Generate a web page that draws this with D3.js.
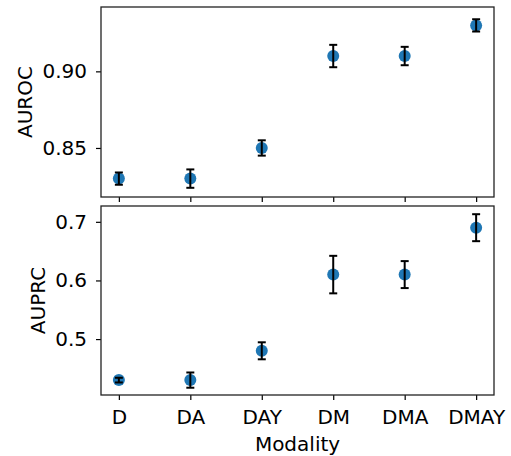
<!DOCTYPE html>
<html><head><meta charset="utf-8">
<script src="https://cdn.jsdelivr.net/npm/d3@7"></script>
<style>body{margin:0;background:#fff}svg{display:block}</style>
</head><body>
<script>
const categories = ["D","DA","DAY","DM","DMA","DMAY"];
const aurocValues = [0.83,0.83,0.85,0.91,0.91,0.93];
const aurocErrors = [0.004,0.006,0.005,0.0073,0.006,0.004];
const auprcValues = [0.43,0.43,0.48,0.61,0.61,0.69];
const auprcErrors = [0.004,0.013,0.0145,0.032,0.023,0.023];
const aurocTicks = [0.85,0.90];
const auprcTicks = [0.5,0.6,0.7];

const W=511,H=456;
const svg=d3.select("body").append("svg").attr("width",W).attr("height",H);
const font="DejaVu Sans";
const FS=20;
const left=101,right=494;
const xl=d3.scaleLinear().domain([-0.25,5.25]).range([left,right]);
const xpos=i=>xl(i);

function panel(top,bottom,domain,vals,errs,ticks,fmt,label,labelX,showXLabels){
  const y=d3.scaleLinear().domain(domain).range([bottom,top]);
  const g=svg.append("g");
  const ya=g.append("g").attr("transform",`translate(${left},0)`)
    .call(d3.axisLeft(y).tickValues(ticks).tickFormat(d3.format(fmt)).tickSize(5).tickPadding(9));
  ya.select(".domain").remove();
  ya.selectAll("text").attr("font-family",font).attr("font-size",FS).attr("fill","#000");
  ya.selectAll("line").attr("stroke","#000").attr("stroke-width",1.2);
  const xa=g.append("g").attr("transform",`translate(0,${bottom})`)
    .call(d3.axisBottom(xl).tickValues(d3.range(categories.length)).tickFormat(i=>showXLabels?categories[i]:"").tickSize(5).tickPadding(10));
  xa.select(".domain").remove();
  xa.selectAll("text").attr("font-family",font).attr("font-size",FS).attr("fill","#000");
  xa.selectAll("line").attr("stroke","#000").attr("stroke-width",1.2);
  g.append("rect").attr("x",left).attr("y",top).attr("width",right-left).attr("height",bottom-top)
    .attr("fill","none").attr("stroke","#222").attr("stroke-width",1.3);
  g.selectAll("circle").data(vals).join("circle")
    .attr("cx",(d,i)=>xpos(i)).attr("cy",d=>y(d)).attr("r",6).attr("fill","#1f77b4");
  const eb=g.selectAll("g.eb").data(vals).join("g").attr("class","eb");
  eb.append("line").attr("x1",(d,i)=>xpos(i)).attr("x2",(d,i)=>xpos(i))
    .attr("y1",(d,i)=>y(d-errs[i])).attr("y2",(d,i)=>y(d+errs[i])).attr("stroke","#000").attr("stroke-width",2);
  [1,-1].forEach(s=>{
    eb.append("line").attr("x1",(d,i)=>xpos(i)-4).attr("x2",(d,i)=>xpos(i)+4)
      .attr("y1",(d,i)=>y(d+s*errs[i])).attr("y2",(d,i)=>y(d+s*errs[i])).attr("stroke","#000").attr("stroke-width",2);
  });
  svg.append("text").attr("transform",`translate(${labelX},${(top+bottom)/2}) rotate(-90)`)
    .attr("text-anchor","middle")
    .attr("font-family",font).attr("font-size",FS).attr("fill","#000").text(label);
}
panel(7,197,[0.818,0.942],aurocValues,aurocErrors,aurocTicks,".2f","AUROC",32,false);
panel(206,395,[0.4046,0.727],auprcValues,auprcErrors,auprcTicks,".1f","AUPRC",45,true);
svg.append("text").attr("x",(left+right)/2).attr("y",451).attr("text-anchor","middle")
  .attr("font-family",font).attr("font-size",FS).attr("fill","#000").text("Modality");
</script>
</body></html>
